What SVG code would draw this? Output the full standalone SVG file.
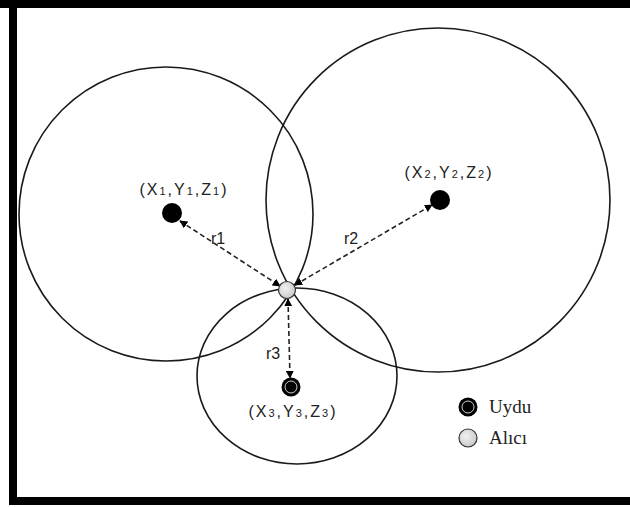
<svg xmlns="http://www.w3.org/2000/svg" width="630" height="507" viewBox="0 0 630 507">
<defs>
<marker id="ah" viewBox="0 0 10 10" refX="9" refY="5" markerWidth="5" markerHeight="5" orient="auto-start-reverse">
<path d="M0,0 L10,5 L0,10 z" fill="#000"/>
</marker>
<radialGradient id="rg" cx="0.4" cy="0.4" r="0.7">
<stop offset="0" stop-color="#f2f2f2"/>
<stop offset="1" stop-color="#c4c4c4"/>
</radialGradient>
</defs>
<style>
.ring{fill:none;stroke:#1a1a1a;stroke-width:1.6}
.dash{fill:none;stroke:#222;stroke-width:1.6;stroke-dasharray:5,3}
.sat{fill:#000}
.rcv{fill:url(#rg);stroke:#333;stroke-width:1.2}
.lbl{font-family:"Liberation Sans",Arial,sans-serif;font-size:16px;fill:#222}
.co{letter-spacing:2px}
.sub{font-size:11px}
.leg{font-family:"Liberation Serif","Times New Roman",serif;font-size:19px;fill:#222}
</style>
<rect x="0" y="0" width="630" height="507" fill="#fff"/>
<g id="frame" fill="#000">
<rect x="0" y="0" width="630" height="8"/>
<rect x="9" y="0" width="8" height="505"/>
<rect x="9" y="497" width="621" height="8"/>
</g>
<g id="circles">
<circle class="ring" cx="166" cy="214" r="147"/>
<circle class="ring" cx="438" cy="200" r="172"/>
<ellipse class="ring" cx="297" cy="376" rx="100" ry="88"/>
</g>
<g id="connectors">
<line class="dash" x1="180" y1="221" x2="280" y2="286" marker-start="url(#ah)" marker-end="url(#ah)"/>
<line class="dash" x1="295" y1="285" x2="432" y2="205" marker-start="url(#ah)" marker-end="url(#ah)"/>
<line class="dash" x1="288" y1="299" x2="290" y2="378" marker-start="url(#ah)" marker-end="url(#ah)"/>
</g>
<g id="sat1"><circle class="sat" cx="172" cy="213" r="10"/>
<text class="lbl co" x="184" y="195" text-anchor="middle">(X<tspan class="sub">1</tspan>,Y<tspan class="sub">1</tspan>,Z<tspan class="sub">1</tspan>)</text></g>
<g id="sat2"><circle class="sat" cx="440" cy="200" r="10"/>
<text class="lbl co" x="449" y="178" text-anchor="middle">(X<tspan class="sub">2</tspan>,Y<tspan class="sub">2</tspan>,Z<tspan class="sub">2</tspan>)</text></g>
<g id="sat3"><circle class="sat" cx="291" cy="387" r="9.5"/><circle cx="291" cy="387" r="6" fill="none" stroke="#fff" stroke-width="0.8"/>
<text class="lbl co" x="293" y="417" text-anchor="middle">(X<tspan class="sub">3</tspan>,Y<tspan class="sub">3</tspan>,Z<tspan class="sub">3</tspan>)</text></g>
<g id="receiver"><circle class="rcv" cx="287" cy="290" r="8.5"/></g>
<g id="labels">
<text class="lbl" x="211" y="244">r1</text>
<text class="lbl" x="344" y="244">r2</text>
<text class="lbl" x="266" y="359">r3</text>
</g>
<g id="legend">
<circle class="sat" cx="468" cy="407" r="9.5"/><circle cx="468" cy="407" r="6" fill="none" stroke="#fff" stroke-width="0.8"/>
<text class="leg" x="489" y="413">Uydu</text>
<circle class="rcv" cx="468" cy="438" r="9"/>
<text class="leg" x="489" y="444">Alıcı</text>
</g>
</svg>
